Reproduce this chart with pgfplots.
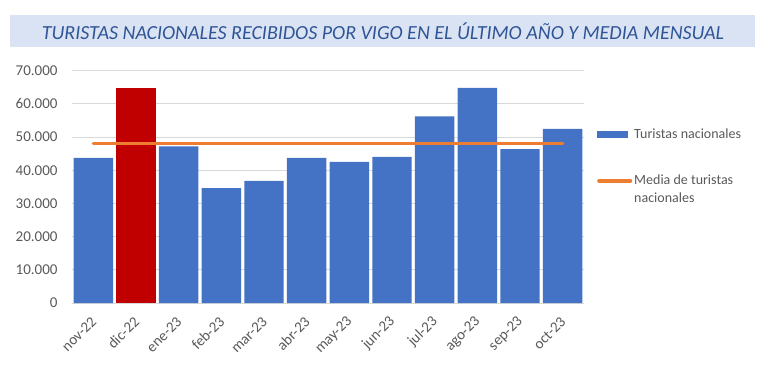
\documentclass[border=0pt]{standalone}
\usepackage{pgfplots}
\pgfplotsset{compat=1.18}
\usepackage{fontspec}
\setmainfont{Carlito}
\definecolor{barblue}{RGB}{68,114,196}
\definecolor{barred}{RGB}{192,0,0}
\definecolor{meanorange}{RGB}{237,125,49}
\definecolor{gridgray}{RGB}{217,217,217}
\definecolor{txtgray}{RGB}{89,89,89}
\definecolor{titlebg}{RGB}{218,227,243}
\definecolor{titleblue}{RGB}{47,85,151}
\begin{document}
\begin{tikzpicture}
\path[use as bounding box] (0,0) rectangle (768bp,373bp);
\fill[titlebg] (10bp,326bp) rectangle (755bp,358bp);
\node[font=\fontsize{20bp}{24bp}\selectfont\itshape, text=titleblue] at (383bp,342bp) {TURISTAS NACIONALES RECIBIDOS POR VIGO EN EL ÚLTIMO AÑO Y MEDIA MENSUAL};
\begin{axis}[
  at={(72bp,70bp)}, anchor=south west,
  scale only axis, width=512bp, height=232.3bp,
  xmin=-0.5, xmax=11.5, ymin=0, ymax=70000,
  xtick={0,...,11},
  xticklabels={nov-22,dic-22,ene-23,feb-23,mar-23,abr-23,may-23,jun-23,jul-23,ago-23,sep-23,oct-23},
  ytick={0,10000,...,70000},
  scaled y ticks=false,
  /pgf/number format/.cd, 1000 sep={.}, assume math mode=true, /pgfplots/.cd,
  axis line style={draw=none},
  major tick length=0pt,
  ymajorgrids, grid style={gridgray, line width=0.8bp},
  tick label style={font=\fontsize{15bp}{18bp}\selectfont, text=txtgray},
  yticklabel style={xshift=-11bp},
  xticklabel style={yshift=-14bp, xshift=3bp, rotate=45, anchor=east},
  ybar, bar width=0.925, 
  legend style={at={(axis description cs:1.0254,0.759)}, anchor=north west, draw=none, fill=none,
     font=\fontsize{14bp}{19bp}\selectfont, text=txtgray, row sep=31bp,
     inner sep=0pt, nodes={anchor=base west, inner sep=2bp}},
  legend cell align=left,
  clip=false,
]
\addplot[fill=barblue, draw=none, bar shift=0pt,
  legend image code/.code={\fill[barblue] (0bp,0.5bp) rectangle (31bp,7.5bp);}]
  coordinates {(0,43700) (2,47200) (3,34600) (4,36800) (5,43700) (6,42500) (7,44000) (8,56200) (9,64800) (10,46400) (11,52500)};
\addlegendentry{Turistas nacionales}
\addplot[fill=barred, draw=none, bar shift=0pt, forget plot]
  coordinates {(1,64800)};
\addplot[sharp plot, draw=meanorange, line width=3.5bp, line cap=round,
  legend image code/.code={\draw[meanorange, line width=3.5bp, line cap=round] (1.5bp,4bp) -- (33bp,4bp);}]
  coordinates {(0,48100) (1,48100) (2,48100) (3,48100) (4,48100) (5,48100) (6,48100) (7,48100) (8,48100) (9,48100) (10,48100) (11,48100)};
\addlegendentry{\parbox[t]{120bp}{\raggedright Media de turistas\\[-1bp]nacionales}}
\end{axis}
\end{tikzpicture}
\end{document}
